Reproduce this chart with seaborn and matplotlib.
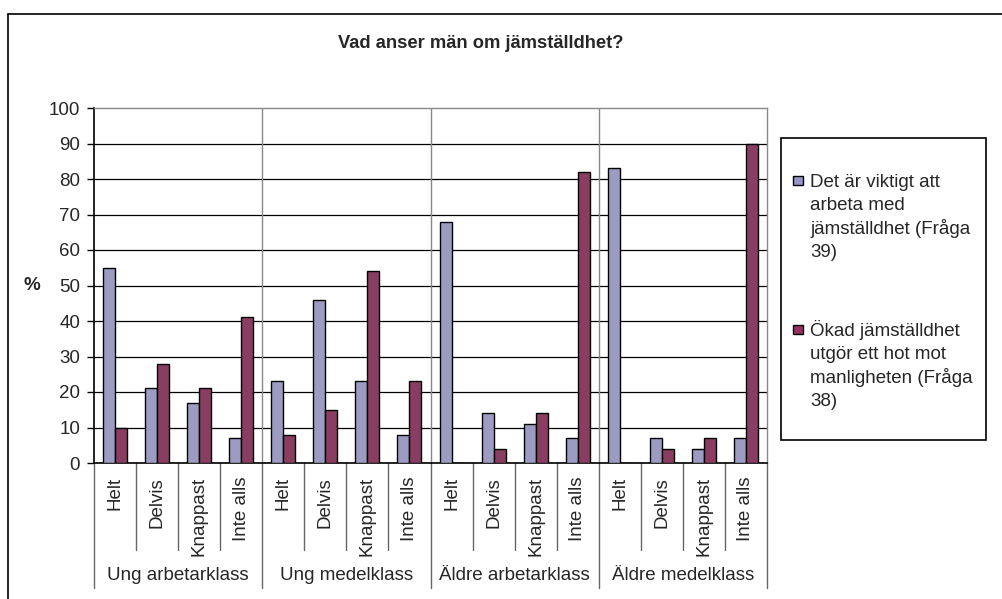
import pandas as pd
import numpy as np
import seaborn as sns
import matplotlib.pyplot as plt
from matplotlib.lines import Line2D
from matplotlib.patches import Rectangle

# data
groups = ["Ung arbetarklass", "Ung medelklass", "Äldre arbetarklass", "Äldre medelklass"]
answers = ["Helt", "Delvis", "Knappast", "Inte alls"]
series = ["Det är viktigt att\narbeta med\njämställdhet (Fråga\n39)",
          "Ökad jämställdhet\nutgör ett hot mot\nmanligheten (Fråga\n38)"]
viktigt = [55, 21, 17, 7, 23, 46, 23, 8, 68, 14, 11, 7, 83, 7, 4, 7]
hot = [10, 28, 21, 41, 8, 15, 54, 23, 0, 4, 14, 82, 0, 4, 7, 90]
colors = ["#9595C9", "#963060"]

keys = [f"{g}|{a}" for g in groups for a in answers]
df = pd.DataFrame({
    "key": keys * 2,
    "value": viktigt + hot,
    "serie": [series[0]] * 16 + [series[1]] * 16,
})

sns.set_style("white")
plt.rcParams["font.family"] = ["Liberation Sans", "DejaVu Sans"]
FS = 13.5

W, H = 1003, 599
fig = plt.figure(figsize=(W / 100, H / 100), dpi=100)
ax = fig.add_axes([94 / W, 1 - 463 / H, (767 - 94) / W, (463 - 108) / H])

sns.barplot(data=df, x="key", y="value", hue="serie", order=keys, hue_order=series,
            palette=colors, width=0.57, edgecolor="black", linewidth=1,
            legend=False, ax=ax, zorder=3)

ax.set_ylim(0, 100)
ax.set_yticks(range(0, 101, 10))
ax.yaxis.grid(True, color="black", lw=0.9, zorder=0)
ax.yaxis.get_gridlines()[-1].set_visible(False)
ax.tick_params(axis="y", left=True, length=5, width=1, color="black", labelsize=FS, pad=5)
ax.set_xticks(range(16))
ax.set_xticklabels(answers * 4, rotation=90, fontsize=FS)
ax.tick_params(axis="x", bottom=False, length=0, pad=10)
ax.set_xlabel("")
ax.set_ylabel("")

for s in ["left", "bottom"]:
    ax.spines[s].set_color("black")
    ax.spines[s].set_linewidth(1.2)
for s in ["top", "right"]:
    ax.spines[s].set_color("#888888")
    ax.spines[s].set_linewidth(1)

# group separators inside the plot
for x in [3.5, 7.5, 11.5]:
    ax.axvline(x, color="#888888", lw=1, zorder=1)

# multi level category axis below the plot
trans = ax.get_xaxis_transform()
for i in range(17):
    x = i - 0.5
    outer = i % 4 == 0
    ax.add_line(Line2D([x, x], [0, -0.352 if outer else -0.245], transform=trans,
                       color="#666666", lw=1, clip_on=False))
for j, g in enumerate(groups):
    ax.text(j * 4 + 1.5, -0.316, g, transform=trans, ha="center", va="center", fontsize=FS)

# titles
fig.text(481 / W, 1 - 44 / H, "Vad anser män om jämställdhet?", ha="center", va="center",
         fontsize=13.2, fontweight="bold")
fig.text(32 / W, 1 - 285 / H, "%", ha="center", va="center", fontsize=FS, fontweight="bold")

# outer chart border (only top and left visible)
fig.add_artist(Line2D([8 / W, 8 / W], [0, 1 - 14 / H], color="black", lw=1.2))
fig.add_artist(Line2D([8 / W, 1], [1 - 14 / H, 1 - 14 / H], color="black", lw=1.2))

# legend box, lines placed one by one for even spacing
fig.add_artist(Rectangle((781 / W, 1 - 440 / H), (986 - 781) / W, (440 - 138) / H,
                         transform=fig.transFigure, fill=False, edgecolor="black", lw=1.2))
for lab, col, base in zip(series, colors, [187, 336]):
    fig.add_artist(Rectangle((793 / W, 1 - (base - 2) / H), 10 / W, 9 / H,
                             transform=fig.transFigure, facecolor=col, edgecolor="black", lw=1))
    for n, line in enumerate(lab.split("\n")):
        fig.text(810 / W, 1 - (base + n * 23.3) / H, line, ha="left", va="baseline",
                 fontsize=FS)

fig.savefig("out.png", dpi=100)
